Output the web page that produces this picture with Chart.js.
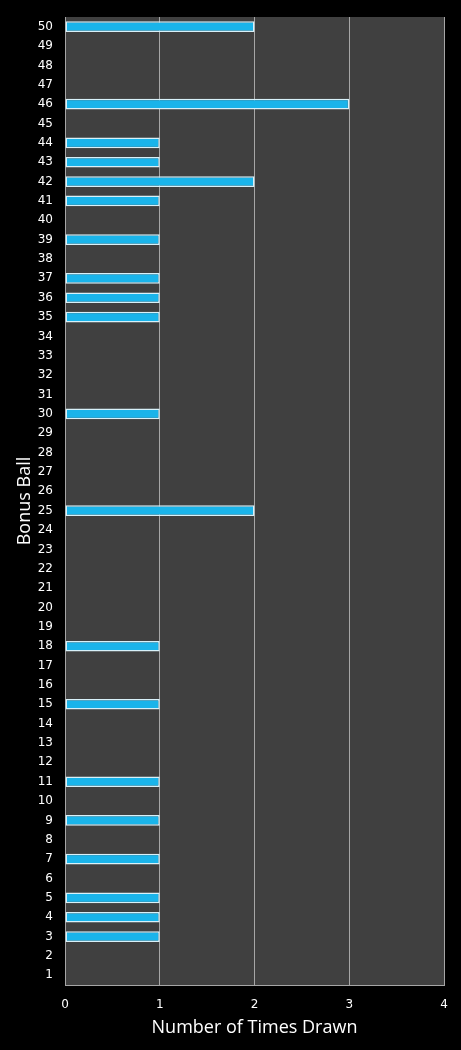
<!DOCTYPE html>
<html>
<head>
<meta charset="utf-8">
<script src="https://cdn.jsdelivr.net/npm/chart.js@4"></script>
<style>
  body { margin: 0; background: #000; }
  #wrap { width: 461px; height: 1050px; }
</style>
</head>
<body>
<div id="wrap"><canvas id="bonus"></canvas></div>
<script>
// bonus ball numbers 1..50, and how often each one came up
const balls = []
for (let i = 1; i <= 50; i++) balls.push(String(i))

const timesDrawn = [
  0, 0, 1, 1, 1, 0, 1, 0, 1, 0,   // 1-10
  1, 0, 0, 0, 1, 0, 0, 1, 0, 0,   // 11-20
  0, 0, 0, 0, 2, 0, 0, 0, 0, 1,   // 21-30
  0, 0, 0, 0, 1, 1, 1, 0, 1, 0,   // 31-40
  1, 2, 1, 1, 0, 3, 0, 0, 0, 2    // 41-50
]
const xTicks = [0, 1, 2, 3, 4]

const plotBg = {
  id: 'plotBg',
  beforeDraw(chart) {
    const a = chart.chartArea
    const ctx = chart.ctx
    ctx.save()
    ctx.fillStyle = '#404040'
    ctx.fillRect(a.left, a.top, a.right - a.left, a.bottom - a.top)
    ctx.restore()
  }
}

function barFill(context) {
  const el = context.element
  if (!el || el.height === undefined) return '#1ab4ea'
  const top = el.y - el.height / 2
  const g = context.chart.ctx.createLinearGradient(0, top, 0, top + el.height)
  g.addColorStop(0, '#a8e8fc')
  g.addColorStop(0.4, '#22bdf2')
  g.addColorStop(1, '#0a9fd6')
  return g
}

const cvs = document.getElementById('bonus')
new Chart(cvs, {
  type: 'bar',
  data: {
    labels: balls,
    datasets: [{
      label: 'Number of Times Drawn',
      data: timesDrawn,
      backgroundColor: barFill,
      borderColor: '#d8f1f9',
      borderWidth: 1.5,
      borderSkipped: false,
      barPercentage: 0.55,
      categoryPercentage: 1
    }]
  },
  plugins: [plotBg],
  options: {
    indexAxis: 'y',
    responsive: true,
    maintainAspectRatio: false,
    animation: false,
    layout: { padding: { top: 17, right: 17, bottom: 0, left: 0 } },
    plugins: {
      legend: { display: false },
      tooltip: { enabled: false }
    },
    scales: {
      x: {
        min: 0,
        max: 4,
        afterBuildTicks: (scale) => { scale.ticks = xTicks.map(v => ({ value: v })) },
        afterFit: (scale) => { scale.height = 65 },
        grid: { color: '#a6a6a6', lineWidth: 1, drawTicks: false },
        border: { color: '#a6a6a6' },
        ticks: { color: '#fff', padding: 13, font: { family: 'DejaVu Sans', size: 12 } },
        title: {
          display: true,
          text: 'Number of Times Drawn',
          color: '#fff',
          padding: { top: 0, bottom: 11 },
          font: { family: 'Open Sans', size: 18 }
        }
      },
      y: {
        reverse: true,
        afterFit: (scale) => { scale.width = 65 },
        grid: { drawOnChartArea: false, drawTicks: true, tickLength: 4, tickColor: 'rgba(0,0,0,0)' },
        border: { color: '#a6a6a6' },
        ticks: { color: '#fff', padding: 8, autoSkip: false, font: { family: 'DejaVu Sans', size: 12 } },
        title: {
          display: true,
          text: 'Bonus Ball',
          color: '#fff',
          padding: { top: 14, bottom: 0 },
          font: { family: 'Open Sans', size: 18 }
        }
      }
    }
  }
})
</script>
</body>
</html>
